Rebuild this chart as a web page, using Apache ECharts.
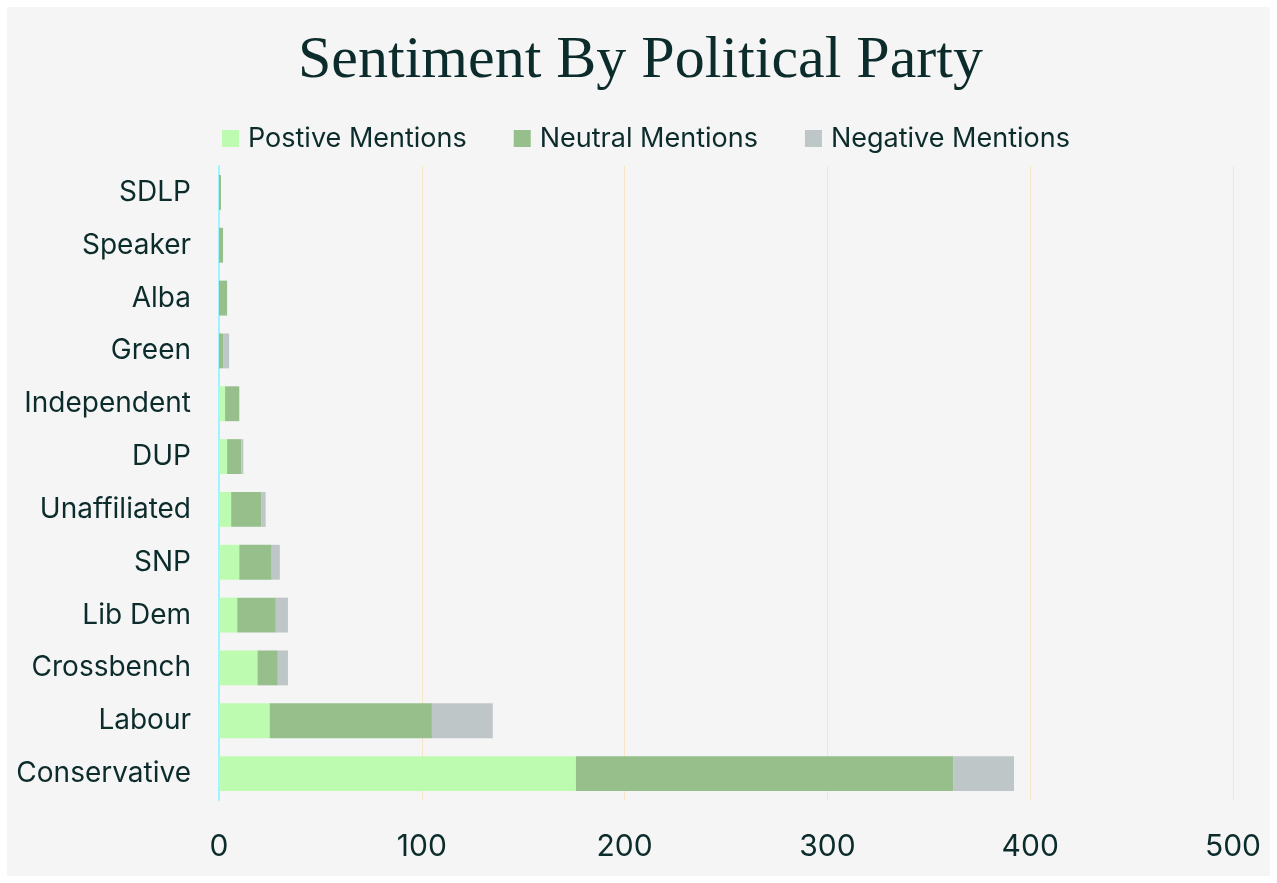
<!DOCTYPE html>
<html>
<head>
<meta charset="utf-8">
<title>Sentiment By Political Party</title>
<script src="https://cdn.jsdelivr.net/npm/echarts@6/dist/echarts.min.js"></script>
<style>
    body { margin: 0; background: #ffffff; }
    #main { position: absolute; left: 7px; top: 7px; width: 1263px; height: 869px; background: #f5f5f5; }
</style>
</head>
<body>
<div id="main"></div>
<script>
    // data, bottom to top
    var parties = ['Conservative', 'Labour', 'Crossbench', 'Lib Dem', 'SNP', 'Unaffiliated',
        'DUP', 'Independent', 'Green', 'Alba', 'Speaker', 'SDLP'];
    var positive = [176, 25, 19, 9, 10, 6, 4, 3, 0, 0, 0, 0];
    var neutral = [186, 80, 10, 19, 16, 15, 7, 7, 2, 4, 2, 1];
    var negative = [30, 30, 5, 6, 4, 2, 1, 0, 3, 0, 0, 0];

    var textColor = '#0c2b2b';
    var font = 'Inter';

    var myChart = echarts.init(document.getElementById('main'));
    var option = {
        backgroundColor: '#f5f5f5',
        title: {
            text: 'Sentiment By Political Party',
            left: 286,
            top: 19,
            textStyle: {
                fontFamily: 'Liberation Serif',
                fontWeight: 'normal',
                fontSize: 60,
                color: textColor
            }
        },
        legend: {
            top: 113,
            left: 210,
            itemWidth: 17,
            itemHeight: 17,
            itemGap: 47,
            icon: 'rect',
            textStyle: { fontFamily: font, fontSize: 27, color: textColor, padding: [0, 0, 0, 4] }
        },
        grid: {
            left: 212,
            right: 37,
            top: 159,
            bottom: 76,
            containLabel: false
        },
        xAxis: {
            type: 'value',
            min: 0,
            max: 500,
            interval: 100,
            axisLine: { show: false },
            axisTick: { show: false },
            splitLine: { lineStyle: { color: '#f8e5c6', width: 1 } },
            axisLabel: { fontFamily: font, fontSize: 30, color: textColor, margin: 32 }
        },
        yAxis: {
            type: 'category',
            data: parties,
            axisTick: { show: false },
            axisLine: { show: true, lineStyle: { color: '#9ff2ff', width: 2 } },
            axisLabel: { fontFamily: font, fontSize: 28, color: textColor, margin: 28 }
        },
        series: [
            {
                name: 'Postive Mentions', type: 'bar', stack: 'total', barWidth: '66%',
                itemStyle: { color: '#bdfcb0' }, data: positive
            },
            {
                name: 'Neutral Mentions', type: 'bar', stack: 'total', barWidth: '66%',
                itemStyle: { color: '#96bf8c' }, data: neutral
            },
            {
                name: 'Negative Mentions', type: 'bar', stack: 'total', barWidth: '66%',
                itemStyle: { color: '#bfc6c8' }, data: negative
            }
        ]
    };
    myChart.setOption(option);
</script>
</body>
</html>
